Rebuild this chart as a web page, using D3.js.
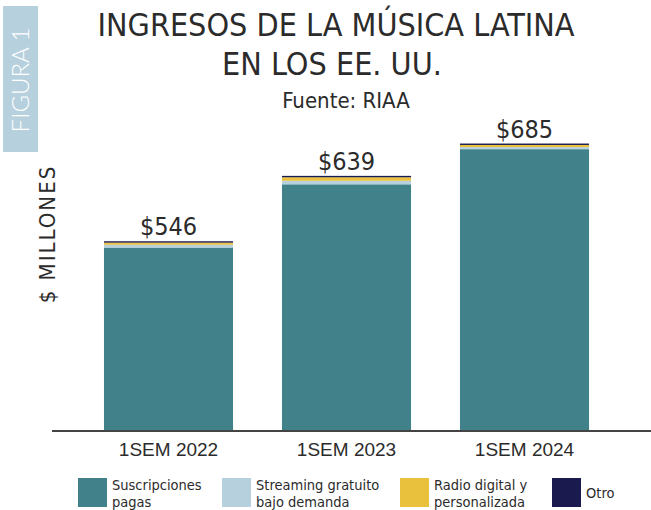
<!DOCTYPE html>
<html>
<head>
<meta charset="utf-8">
<script src="https://cdn.jsdelivr.net/npm/d3@7"></script>
<style>
  body { margin: 0; background: #fff; }
  svg { display: block; font-family: "DejaVu Sans Condensed", "DejaVu Sans", sans-serif; font-stretch: condensed; }
</style>
</head>
<body>
<svg id="chart" width="651" height="510"></svg>
<script>
// periods on the x axis
let periods = ["1SEM 2022", "1SEM 2023", "1SEM 2024"]
let totals = [546, 639, 685]

// stacked segments, $ millions
let suscripciones = [537, 627, 677]
let streaming_gratuito = [4, 5, 3]
let radio_digital = [3, 5, 3]
let otro = [2, 2, 2]

let series_names = ["Suscripciones pagas", "Streaming gratuito bajo demanda", "Radio digital y personalizada", "Otro"]
let legend_lines = [["Suscripciones", "pagas"], ["Streaming gratuito", "bajo demanda"], ["Radio digital y", "personalizada"], ["Otro"]]
let colors = ["#41828a", "#b6d0dd", "#e9c13c", "#1b1a4f"]

let svg = d3.select("#chart")
let margins = {left: 52, bottom: 431}

let rows = periods.map((p, i) => ({
  period: p,
  s0: suscripciones[i],
  s1: streaming_gratuito[i],
  s2: radio_digital[i],
  s3: otro[i]
}))
let stack = d3.stack().keys(["s0", "s1", "s2", "s3"])(rows)

let x = d3.scaleBand()
  .domain(periods)
  .range([79.5, 613.5])
  .paddingInner(0.275)
  .paddingOuter(0.1375)

// the original chart does not start at zero
let y = d3.scaleLinear()
  .domain([276, 700])
  .range([margins.bottom, 133])
  .clamp(true)

// figure tag
svg.append("rect")
  .attr("x", 3).attr("y", 6).attr("width", 35).attr("height", 146)
  .attr("fill", "#b6d0dd")
svg.append("text")
  .attr("transform", "translate(29,80)rotate(-90)")
  .attr("text-anchor", "middle")
  .attr("fill", "#fff")
  .attr("font-size", 24)
  .attr("font-family", "Lato, sans-serif")
  .attr("font-weight", 300)
  .text("FIGURA 1")

// titles
let title = svg.append("g").attr("fill", "#2b2b2b").attr("text-anchor", "middle")
title.append("text").attr("x", 336).attr("y", 36).attr("font-size", 32).text("INGRESOS DE LA MÚSICA LATINA")
title.append("text").attr("x", 332).attr("y", 75).attr("font-size", 32).text("EN LOS EE. UU.")
title.append("text").attr("x", 346).attr("y", 108).attr("font-size", 22).text("Fuente: RIAA")

// y label
svg.append("text")
  .attr("transform", "translate(55,234)rotate(-90)")
  .attr("text-anchor", "middle")
  .attr("fill", "#2b2b2b")
  .attr("font-size", 22)
  .attr("letter-spacing", 2)
  .text("$ MILLONES")

// bars
svg.append("g").selectAll("g")
  .data(stack).enter()
  .append("g")
  .attr("fill", (d, i) => colors[i])
  .selectAll("rect")
  .data(d => d).enter()
  .append("rect")
  .attr("x", d => x(d.data.period))
  .attr("y", d => y(d[1]))
  .attr("width", x.bandwidth())
  .attr("height", d => y(d[0]) - y(d[1]))

// total labels
svg.append("g").selectAll("text")
  .data(totals).enter()
  .append("text")
  .attr("x", (d, i) => x(periods[i]) + x.bandwidth() / 2)
  .attr("y", d => y(d) - 6)
  .attr("text-anchor", "middle")
  .attr("fill", "#2b2b2b")
  .attr("font-size", 25)
  .text(d => "$" + d)

// x axis
let xAxis = svg.append("g")
  .attr("transform", `translate(0,${margins.bottom})`)
  .call(d3.axisBottom(x).tickSize(0).tickPadding(12))
xAxis.select(".domain").remove()
xAxis.append("line")
  .attr("x1", margins.left).attr("x2", 651)
  .attr("stroke", "#444").attr("stroke-width", 2)
xAxis.selectAll(".tick text")
  .attr("font-size", 19)
  .attr("font-family", null)
  .attr("fill", "#2b2b2b")

// legend
let legendX = [78, 222, 400, 552]
let legend = svg.append("g").selectAll("g")
  .data(series_names).enter()
  .append("g")
  .attr("transform", (d, i) => `translate(${legendX[i]},478)`)
legend.append("rect")
  .attr("width", 29).attr("height", 29)
  .attr("fill", (d, i) => colors[i])
legend.append("text")
  .attr("x", 34)
  .attr("fill", "#2b2b2b")
  .attr("font-size", 14.5)
  .selectAll("tspan")
  .data((d, i) => legend_lines[i].map(t => [t, legend_lines[i].length]))
  .enter().append("tspan")
  .attr("x", 34)
  .attr("y", (d, j) => d[1] == 1 ? 20 : 12 + j * 17)
  .text(d => d[0])
</script>
</body>
</html>
